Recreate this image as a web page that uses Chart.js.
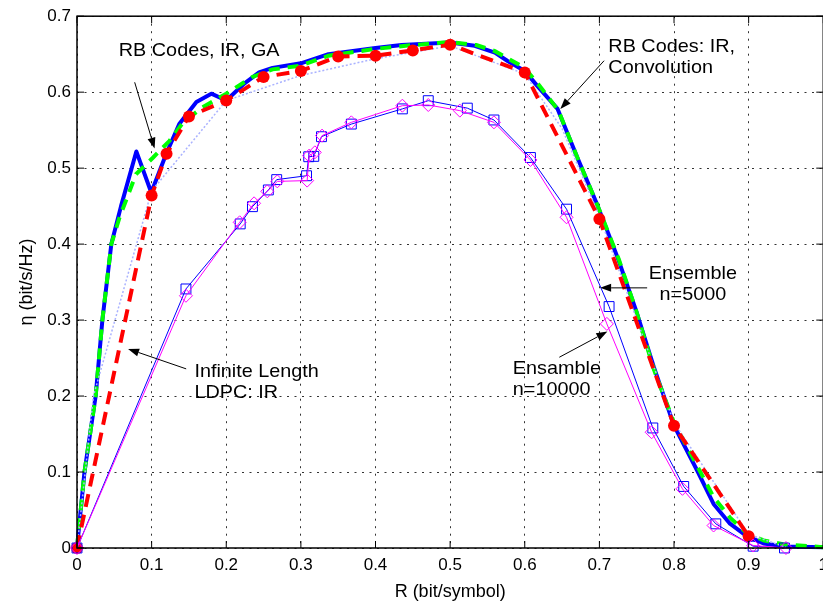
<!DOCTYPE html>
<html>
<head>
<meta charset="utf-8">
<script src="https://cdn.jsdelivr.net/npm/chart.js@4.4.1/dist/chart.umd.min.js"></script>
<style>
html, body { margin: 0; padding: 0; background: #fff; overflow: hidden; }
#wrap { width: 823px; height: 605px; overflow: hidden; }
</style>
</head>
<body>
<div id="wrap"><canvas id="chart_eta" width="835" height="605"></canvas></div>
<script>
// tick values
const xTickValues = [0, 0.1, 0.2, 0.3, 0.4, 0.5, 0.6, 0.7, 0.8, 0.9, 1];
const yTickValues = [0, 0.1, 0.2, 0.3, 0.4, 0.5, 0.6, 0.7];

// RB codes: IR, convolution (thick blue)
const convR = [0, 0.01, 0.025, 0.034, 0.046, 0.059, 0.0795, 0.0995, 0.12, 0.137, 0.16, 0.18, 0.2, 0.225, 0.244, 0.262, 0.3, 0.337, 0.4, 0.435, 0.5, 0.533, 0.56, 0.577, 0.6, 0.617, 0.644, 0.67, 0.697, 0.726, 0.75, 0.773, 0.8, 0.831, 0.853, 0.875, 0.897, 0.92, 0.95, 1.0];
const convEta = [0, 0.1, 0.2, 0.3, 0.4, 0.45, 0.522, 0.468, 0.52, 0.558, 0.587, 0.598, 0.589, 0.612, 0.626, 0.632, 0.638, 0.65, 0.658, 0.662, 0.6655, 0.661, 0.652, 0.641, 0.628, 0.608, 0.578, 0.515, 0.452, 0.378, 0.31, 0.238, 0.161, 0.102, 0.058, 0.032, 0.016, 0.006, 0.002, 0.001];

// RB codes, IR, GA (green dashed)
const gaR = [0, 0.01, 0.025, 0.034, 0.046, 0.057, 0.079, 0.102, 0.124, 0.142, 0.168, 0.2, 0.235, 0.262, 0.3, 0.337, 0.4, 0.45, 0.5, 0.535, 0.56, 0.6, 0.62, 0.645, 0.67, 0.7, 0.726, 0.75, 0.773, 0.8, 0.83, 0.853, 0.875, 0.897, 0.92, 0.946, 1.0];
const gaEta = [0, 0.1, 0.2, 0.3, 0.4, 0.435, 0.492, 0.514, 0.536, 0.56, 0.58, 0.598, 0.62, 0.63, 0.635, 0.648, 0.657, 0.662, 0.666, 0.662, 0.654, 0.632, 0.608, 0.576, 0.515, 0.445, 0.38, 0.31, 0.235, 0.165, 0.11, 0.067, 0.04, 0.02, 0.01, 0.005, 0.001];

// infinite length LDPC: IR (red dashed, dots)
const ldpcR = [0, 0.1, 0.12, 0.15, 0.2, 0.25, 0.3, 0.35, 0.4, 0.45, 0.5, 0.6, 0.7, 0.8, 0.9];
const ldpcEta = [0, 0.464, 0.519, 0.568, 0.589, 0.62, 0.628, 0.647, 0.648, 0.655, 0.6625, 0.626, 0.433, 0.161, 0.0155];

// thin light dotted curve
const coarseR = [0, 0.022, 0.1, 0.2, 0.3, 0.4, 0.5, 0.6, 0.65, 0.7, 0.8, 0.9, 0.95];
const coarseEta = [0, 0.2, 0.47, 0.589, 0.622, 0.644, 0.661, 0.624, 0.552, 0.437, 0.165, 0.018, 0.001];

// Ensemble n=5000 (blue squares)
const ens5000R = [0, 0.146, 0.2187, 0.2351, 0.2564, 0.2676, 0.3076, 0.3105, 0.3173, 0.3276, 0.3676, 0.436, 0.4707, 0.523, 0.5587, 0.6076, 0.656, 0.713, 0.7716, 0.813, 0.856, 0.906, 0.948];
const ens5000Eta = [0, 0.341, 0.4266, 0.4493, 0.4713, 0.4849, 0.49, 0.515, 0.5155, 0.5414, 0.558, 0.578, 0.5888, 0.579, 0.5634, 0.514, 0.446, 0.3178, 0.158, 0.081, 0.0318, 0.0024, 0];

// Ensamble n=10000 (magenta diamonds)
const ens10000R = [0, 0.146, 0.218, 0.2373, 0.255, 0.2684, 0.3084, 0.311, 0.3187, 0.3284, 0.3676, 0.436, 0.4707, 0.513, 0.5587, 0.6076, 0.656, 0.71, 0.77, 0.8113, 0.853, 0.906, 0.95];
const ens10000Eta = [0, 0.332, 0.4287, 0.4537, 0.4695, 0.4826, 0.4836, 0.5164, 0.5208, 0.5428, 0.5603, 0.5822, 0.5831, 0.5757, 0.5603, 0.5108, 0.4353, 0.295, 0.1524, 0.0779, 0.0296, 0.0033, 0];

const pts = (xs, ys) => xs.map((x, i) => ({x: x, y: ys[i]}));

const FONT = '"Liberation Sans", Arial, sans-serif';

// text notes with arrows, placed in data coordinates
const notes = [
    {lines: ['RB Codes, IR, GA'], x: 0.056, y: 0.648, align: 'left', from: [0.0773, 0.613], to: [0.104, 0.5257]},
    {lines: ['RB Codes: IR,', 'Convolution'], x: 0.712, y: 0.6524, align: 'left', from: [0.7063, 0.6414], to: [0.6476, 0.5779]},
    {lines: ['Ensemble', 'n=5000'], x: 0.8253, y: 0.3542, align: 'center', from: [0.764, 0.3424], to: [0.701, 0.3424]},
    {lines: ['Ensamble', 'n=10000'], x: 0.584, y: 0.2292, align: 'left', from: [0.6463, 0.2511], to: [0.7107, 0.2849]},
    {lines: ['Infinite Length', 'LDPC: IR'], x: 0.1573, y: 0.2247, align: 'left', from: [0.1463, 0.2358], to: [0.0684, 0.2621]}
];

const framePlugin = {
    id: 'framePlugin',
    beforeDraw: (chart) => {
        const ctx = chart.ctx;
        ctx.save();
        ctx.fillStyle = 'white';
        ctx.fillRect(0, 0, chart.width, chart.height);
        ctx.restore();
    },
    afterDraw: (chart) => {
        const ctx = chart.ctx;
        const a = chart.chartArea;
        const xs = chart.scales.x, ys = chart.scales.y;
        ctx.save();
        ctx.strokeStyle = '#000';
        ctx.lineWidth = 1.5;
        ctx.strokeRect(a.left, a.top, a.right - a.left, a.bottom - a.top);
        // inward tick marks on all four sides
        ctx.lineWidth = 1;
        ctx.beginPath();
        xTickValues.forEach(v => {
            const px = xs.getPixelForValue(v);
            ctx.moveTo(px, a.bottom); ctx.lineTo(px, a.bottom - 7);
            ctx.moveTo(px, a.top); ctx.lineTo(px, a.top + 7);
        });
        yTickValues.forEach(v => {
            const py = ys.getPixelForValue(v);
            ctx.moveTo(a.left, py); ctx.lineTo(a.left + 7, py);
            ctx.moveTo(a.right, py); ctx.lineTo(a.right - 7, py);
        });
        ctx.stroke();

        // notes
        ctx.fillStyle = '#000';
        ctx.font = '17.7px ' + FONT;
        notes.forEach(n => {
            const tx = xs.getPixelForValue(n.x), ty = ys.getPixelForValue(n.y);
            n.lines.forEach((line, i) => {
                ctx.save();
                ctx.translate(tx, ty + i * 21);
                ctx.scale(1.12, 1);
                ctx.textAlign = n.align;
                ctx.textBaseline = 'alphabetic';
                ctx.fillText(line, 0, 0);
                ctx.restore();
            });
            const x1 = xs.getPixelForValue(n.from[0]), y1 = ys.getPixelForValue(n.from[1]);
            const x2 = xs.getPixelForValue(n.to[0]), y2 = ys.getPixelForValue(n.to[1]);
            const ang = Math.atan2(y2 - y1, x2 - x1);
            const len = 11, hw = 4;
            ctx.beginPath();
            ctx.moveTo(x1, y1);
            ctx.lineTo(x2 - len * Math.cos(ang), y2 - len * Math.sin(ang));
            ctx.stroke();
            ctx.beginPath();
            ctx.moveTo(x2, y2);
            ctx.lineTo(x2 - len * Math.cos(ang) + hw * Math.sin(ang), y2 - len * Math.sin(ang) - hw * Math.cos(ang));
            ctx.lineTo(x2 - len * Math.cos(ang) - hw * Math.sin(ang), y2 - len * Math.sin(ang) + hw * Math.cos(ang));
            ctx.closePath();
            ctx.fill();
        });
        ctx.restore();
    }
};

const fmt = (v) => String(+Number(v).toFixed(1));

var chart_eta = new Chart(document.getElementById('chart_eta'), {
    type: 'line',
    data: {
        datasets: [
            {
                label: 'Ensamble n=10000',
                data: pts(ens10000R, ens10000Eta),
                borderColor: '#ff00ff',
                borderWidth: 1,
                pointStyle: 'rectRot',
                pointRadius: 6.5,
                pointBorderColor: '#ff00ff',
                pointBackgroundColor: 'rgba(0,0,0,0)',
                pointBorderWidth: 1,
                order: 1
            },
            {
                label: 'Ensemble n=5000',
                data: pts(ens5000R, ens5000Eta),
                borderColor: '#0000ff',
                borderWidth: 1,
                pointStyle: 'rect',
                pointRadius: 7,
                pointBorderColor: '#0000ff',
                pointBackgroundColor: 'rgba(0,0,0,0)',
                pointBorderWidth: 1,
                order: 2
            },
            {
                label: 'Infinite Length LDPC: IR',
                data: pts(ldpcR, ldpcEta),
                borderColor: '#ff0000',
                borderWidth: 4,
                borderDash: [13, 8],
                pointStyle: 'circle',
                pointRadius: 6,
                pointBorderWidth: 0,
                pointBackgroundColor: '#ff0000',
                pointBorderColor: '#ff0000',
                order: 3
            },
            {
                label: 'coarse',
                data: pts(coarseR, coarseEta),
                borderColor: '#aab2ff',
                borderWidth: 1.5,
                borderDash: [2, 2],
                pointRadius: 0,
                order: 4
            },
            {
                label: 'RB Codes, IR, GA',
                data: pts(gaR, gaEta),
                borderColor: '#00ff00',
                borderWidth: 4,
                borderDash: [11, 8],
                pointRadius: 0,
                order: 5
            },
            {
                label: 'RB Codes: IR, Convolution',
                data: pts(convR, convEta),
                borderColor: '#0000ff',
                borderWidth: 4,
                borderJoinStyle: 'round',
                pointRadius: 0,
                order: 6
            }
        ]
    },
    options: {
        animation: false,
        responsive: false,
        devicePixelRatio: 1,
        clip: 10,
        elements: { line: { tension: 0, fill: false } },
        layout: { padding: { left: 0, top: 15, right: 8, bottom: 0 } },
        plugins: {
            legend: { display: false },
            tooltip: { enabled: false }
        },
        scales: {
            x: {
                type: 'linear',
                min: 0,
                max: 1,
                afterBuildTicks: (s) => { s.ticks = xTickValues.map(v => ({value: v})); },
                afterFit: (s) => { s.height = 57; },
                ticks: {
                    autoSkip: false,
                    maxRotation: 0,
                    padding: 7,
                    color: '#000',
                    font: { family: FONT, size: 17 },
                    callback: fmt
                },
                grid: { color: '#333', lineWidth: 1, drawTicks: false },
                border: { display: false, dash: [2, 5.5] },
                title: {
                    display: true,
                    text: 'R (bit/symbol)',
                    color: '#000',
                    font: { family: FONT, size: 18 },
                    padding: { top: 0, bottom: 2 }
                }
            },
            y: {
                type: 'linear',
                min: 0,
                max: 0.7,
                afterBuildTicks: (s) => { s.ticks = yTickValues.map(v => ({value: v})); },
                afterFit: (s) => { s.width = 77; },
                ticks: {
                    autoSkip: false,
                    padding: 6,
                    color: '#000',
                    font: { family: FONT, size: 17 },
                    callback: fmt
                },
                grid: { color: '#333', lineWidth: 1, drawTicks: false },
                border: { display: false, dash: [2, 5.5] },
                title: {
                    display: true,
                    text: 'η (bit/s/Hz)',
                    color: '#000',
                    font: { family: FONT, size: 18 },
                    padding: { top: 16, bottom: 0 }
                }
            }
        }
    },
    plugins: [framePlugin]
});
</script>
</body>
</html>
